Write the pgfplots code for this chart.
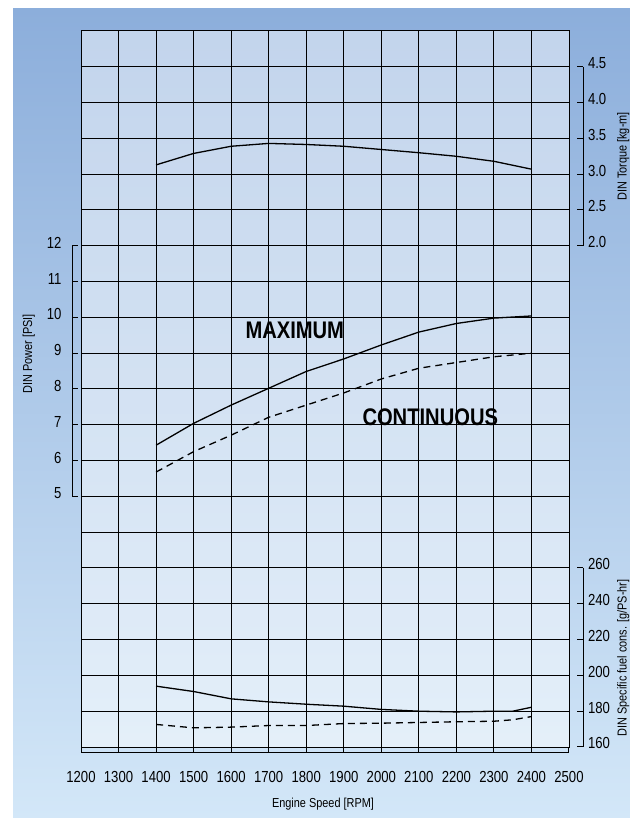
\documentclass[border=0pt]{standalone}
\usepackage{pgfplots}
\pgfplotsset{compat=1.18}
\usepackage{pgfplotstable}
\usepackage{fontspec}
\setmainfont{Liberation Sans}[FakeStretch=0.84]
\newfontfamily\tickfamily{Liberation Sans}[FakeStretch=0.82]
\definecolor{bgtop}{HTML}{8CAEDB}
\definecolor{bgbot}{HTML}{D3E7F8}

% torque [kg-m]
\pgfplotstableread{
rpm T
1400 3.13
1500 3.29
1600 3.39
1700 3.43
1800 3.415
1900 3.39
2000 3.345
2100 3.30
2200 3.25
2300 3.18
2400 3.07
}\torque

% power [PS]
\pgfplotstableread{
rpm Max Cont
1400 6.43 5.68
1500 7.04 6.25
1600 7.55 6.71
1700 8.02 7.21
1800 8.49 7.55
1900 8.84 7.89
2000 9.23 8.28
2100 9.59 8.58
2200 9.83 8.74
2300 9.98 8.90
2400 10.04 9.00
}\power

% specific fuel consumption [g/PS-hr]
\pgfplotstableread{
rpm Max Cont
1400 194.0 172.6
1500 191.0 170.7
1600 186.9 171.1
1700 185.2 172.0
1800 183.9 172.0
1900 182.8 173.1
2000 181.0 173.3
2100 180.0 173.7
2200 179.6 174.1
2300 180.0 174.4
2350 180.0 175.2
2400 182.2 177.0
}\fuel

\newcommand{\ticksfont}{\tickfamily\fontsize{16bp}{16bp}\selectfont}
\newcommand{\titlefont}{\fontsize{13bp}{13bp}\selectfont}
\newcommand{\bigfont}{\fontsize{24bp}{24bp}\selectfont\bfseries}

\begin{document}
\begin{tikzpicture}
\useasboundingbox (0,0) rectangle (630bp,818bp);
\clip (0,0) rectangle (630bp,818bp);
\fill[white] (0,0) rectangle (630bp,818bp);
\shade[top color=bgtop,bottom color=bgbot] (13bp,0) rectangle (630bp,809bp);

\begin{axis}[
  at={(81bp,71bp)}, anchor=south west,
  scale only axis, width=488bp, height=716bp,
  xmin=1200, xmax=2500, ymin=0, ymax=20,
  xtick={1200,1300,...,2500}, ytick={0,1,...,20},
  xticklabels={}, yticklabels={},
  major tick length=0pt,
  grid=major,
  grid style={black, line width=1bp},
  axis line style={black, line width=1bp},
  axis background/.style={fill=white, fill opacity=0.47},
  clip=false,
]
% torque: grid = 2*T + 10
\addplot[black, line width=1.3bp, no marks] table[x=rpm, y expr=2*\thisrow{T}+10] {\torque};
% power: grid = P + 2
\addplot[black, line width=1.3bp, no marks] table[x=rpm, y expr=\thisrow{Max}+2] {\power};
\addplot[black, line width=1.3bp, no marks, dash pattern=on 7bp off 5bp] table[x=rpm, y expr=\thisrow{Cont}+2] {\power};
% fuel: grid = (F-160)/20
\addplot[black, line width=1.3bp, no marks] table[x=rpm, y expr=(\thisrow{Max}-160)/20] {\fuel};
\addplot[black, line width=1.3bp, no marks, dash pattern=on 7bp off 5bp] table[x=rpm, y expr=(\thisrow{Cont}-160)/20] {\fuel};
\end{axis}

\begin{scope}[x=1bp,y=-1bp,shift={(0,818bp)}, line width=1bp]
  % bottom axis bracket and labels
  \draw (81,753) -- (569,753);
  \foreach \v [count=\i from 0] in {1200,1300,...,2500} {
    \draw ({81+\i*37.538},753) -- ++(0,-5.5);
    \node[font=\ticksfont, anchor=base, inner sep=0pt] at ({81+\i*37.538},783) {\v};
  }
  \node[font=\titlefont, anchor=base, inner sep=0pt] at (323,808) {Engine Speed [RPM]};

  % left: power
  \draw (72,{747-35.8*14}) -- (72,{747-35.8*7});
  \foreach \p in {5,...,12} {
    \draw (72,{747-35.8*(\p+2)}) -- ++(6,0);
    \node[font=\ticksfont, anchor=base east, inner sep=0pt] at (62,{747-35.8*(\p+2)+2.5}) {\p};
  }
  \node[font=\titlefont, rotate=90, anchor=base, inner sep=0pt] at (32,354) {DIN Power [PSI]};

  % right: torque
  \draw (583,{747-35.8*19}) -- (583,{747-35.8*14});
  \foreach \t/\g in {2.0/14,2.5/15,3.0/16,3.5/17,4.0/18,4.5/19} {
    \draw (583,{747-35.8*\g}) -- ++(-6,0);
    \node[font=\ticksfont, anchor=base west, inner sep=0pt] at (587.5,{747-35.8*\g+2}) {\t};
  }
  \node[font=\titlefont, rotate=90, anchor=base, inner sep=0pt] at (626.5,156.5) {DIN Torque [kg-m]};

  % right: fuel consumption
  \draw (583,{747-35.8*5}) -- (583,747);
  \foreach \f/\g in {160/0,180/1,200/2,220/3,240/4,260/5} {
    \draw (583,{747-35.8*\g}) -- ++(-6,0);
    \node[font=\ticksfont, anchor=base west, inner sep=0pt] at (587.5,{747-35.8*\g+2}) {\f};
  }
  \node[font=\titlefont, rotate=90, anchor=base, inner sep=0pt] at (626.5,658) {DIN Specific fuel cons. [g/PS-hr]};

  % curve labels
  \node[font=\bigfont, anchor=base west, inner sep=0pt] at (245,338.3) {MAXIMUM};
  \node[font=\bigfont, anchor=base west, inner sep=0pt] at (362,426) {CONTINUOUS};
\end{scope}
\end{tikzpicture}
\end{document}
